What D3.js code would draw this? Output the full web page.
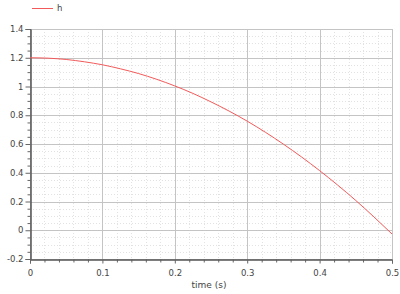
<!DOCTYPE html>
<html lang="en">
	<head>
		<meta charset="utf-8">
		<title>h vs time</title>
		<script type="text/javascript" src="https://cdn.jsdelivr.net/npm/d3@7"></script>
		<style type="text/css">
			body { margin: 0; background: #fff; }
			text { font-family: "DejaVu Sans", sans-serif; font-size: 8.5px; fill: #444; }
		</style>
	</head>
	<body>
		<script type="text/javascript">

			//Data
			var seriesName = "h";
			var timeValues = [0, 0.025, 0.05, 0.075, 0.1, 0.125, 0.15, 0.175, 0.2, 0.225, 0.25,
			                  0.275, 0.3, 0.325, 0.35, 0.375, 0.4, 0.425, 0.45, 0.475, 0.5];
			var hValues = [1.2, 1.197, 1.188, 1.172, 1.151, 1.123, 1.090, 1.050, 1.004, 0.952, 0.893,
			               0.829, 0.759, 0.682, 0.599, 0.510, 0.415, 0.314, 0.207, 0.093, -0.026];
			var xTicks = [0, 0.1, 0.2, 0.3, 0.4, 0.5];
			var yTicks = [-0.2, 0, 0.2, 0.4, 0.6, 0.8, 1, 1.2, 1.4];
			var xLabel = "time (s)";

			//Plot box ("top" is taken by window.top, so use other names)
			var w = 400, h = 294;
			var plotL = 30, plotR = 392, plotT = 29, plotB = 259;

			var xScale = d3.scaleLinear().domain([0, 0.5]).range([plotL, plotR]);
			var yScale = d3.scaleLinear().domain([-0.2, 1.4]).range([plotB, plotT]);

			var xMinor = d3.range(0, 0.5001, 0.02).filter(function(v) { return Math.abs(v * 10 - Math.round(v * 10)) > 1e-6; });
			var yMinor = d3.range(-0.2, 1.4001, 0.05).filter(function(v) { return Math.abs(v * 5 - Math.round(v * 5)) > 1e-6; });

			var svg = d3.select("body")
						.append("svg")
						.attr("width", w)
						.attr("height", h);

			//Minor grid
			svg.selectAll("line.xminor")
			   .data(xMinor).enter().append("line")
			   .attr("x1", function(d) { return Math.round(xScale(d)) + 0.5; })
			   .attr("x2", function(d) { return Math.round(xScale(d)) + 0.5; })
			   .attr("y1", plotT).attr("y2", plotB)
			   .attr("stroke", "#e2e2e2").attr("stroke-dasharray", "1,2");
			svg.selectAll("line.yminor")
			   .data(yMinor).enter().append("line")
			   .attr("y1", function(d) { return Math.round(yScale(d)) + 0.5; })
			   .attr("y2", function(d) { return Math.round(yScale(d)) + 0.5; })
			   .attr("x1", plotL).attr("x2", plotR)
			   .attr("stroke", "#e2e2e2").attr("stroke-dasharray", "1,2");

			//Major grid
			svg.selectAll("line.xmajor")
			   .data(xTicks).enter().append("line")
			   .attr("x1", function(d) { return Math.round(xScale(d)) + 0.5; })
			   .attr("x2", function(d) { return Math.round(xScale(d)) + 0.5; })
			   .attr("y1", plotT).attr("y2", plotB)
			   .attr("stroke", "#c4c4c4");
			svg.selectAll("line.ymajor")
			   .data(yTicks).enter().append("line")
			   .attr("y1", function(d) { return Math.round(yScale(d)) + 0.5; })
			   .attr("y2", function(d) { return Math.round(yScale(d)) + 0.5; })
			   .attr("x1", plotL).attr("x2", plotR)
			   .attr("stroke", "#c4c4c4");

			//Axes
			var fmt = function(d) { return String(+d.toFixed(2)); };
			var greyTicks = function(g) {
				g.selectAll("line").attr("stroke", "#666");
				g.select(".domain").attr("stroke", "#555");
			};

			svg.append("g")
			   .attr("transform", "translate(" + (plotL + 0.5) + ",0)")
			   .call(d3.axisLeft(yScale).tickValues(yMinor).tickSize(3).tickFormat(""))
			   .call(greyTicks);
			svg.append("g")
			   .attr("transform", "translate(" + (plotL + 0.5) + ",0)")
			   .call(d3.axisLeft(yScale).tickValues(yTicks).tickSize(5).tickPadding(2).tickFormat(fmt))
			   .call(greyTicks);

			svg.append("g")
			   .attr("transform", "translate(0," + (plotB + 0.5) + ")")
			   .call(d3.axisBottom(xScale).tickValues(xMinor).tickSize(3).tickFormat(""))
			   .call(greyTicks);
			svg.append("g")
			   .attr("transform", "translate(0," + (plotB + 0.5) + ")")
			   .call(d3.axisBottom(xScale).tickValues(xTicks).tickSize(4).tickPadding(6).tickFormat(fmt))
			   .call(greyTicks);

			svg.selectAll(".tick text").style("font-size", "8.5px").attr("fill", "#444");

			//Axis title
			svg.append("text")
			   .attr("x", 209)
			   .attr("y", 288)
			   .attr("text-anchor", "middle")
			   .style("font-size", "9px")
			   .text(xLabel);

			//Line
			var line = d3.line()
						 .x(function(d, i) { return xScale(timeValues[i]); })
						 .y(function(d) { return yScale(d); })
						 .curve(d3.curveMonotoneX);

			svg.append("path")
			   .datum(hValues)
			   .attr("d", line)
			   .attr("fill", "none")
			   .attr("stroke", "#f25a5a")
			   .attr("stroke-width", 1);

			//Legend
			svg.append("line")
			   .attr("x1", 32).attr("x2", 53)
			   .attr("y1", 8.5).attr("y2", 8.5)
			   .attr("stroke", "#f25a5a");
			svg.append("text")
			   .attr("x", 57).attr("y", 11)
			   .text(seriesName);

		</script>
	</body>
</html>
